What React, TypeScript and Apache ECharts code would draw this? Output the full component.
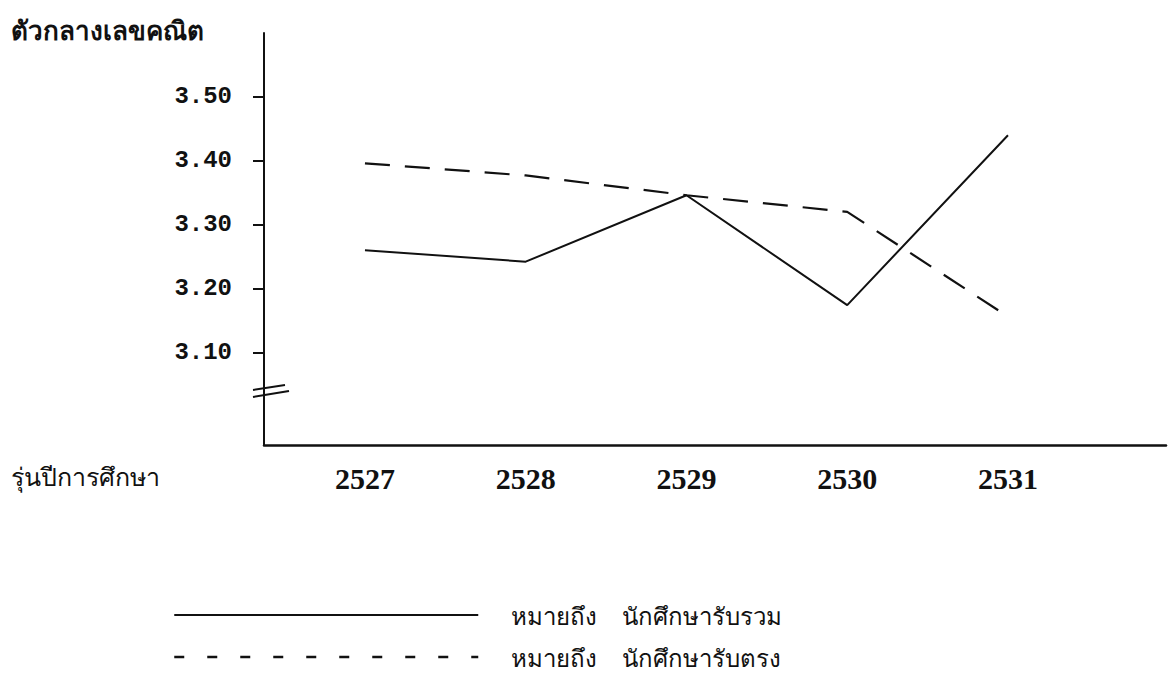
import React, { useEffect, useRef } from "react";
import * as echarts from "echarts";

const years = [2527, 2528, 2529, 2530, 2531];
const combinedAdmission = [3.26, 3.242, 3.346, 3.174, 3.44];
const directAdmission = [3.396, 3.377, 3.346, 3.32, 3.156];
const yTickValues = [3.1, 3.2, 3.3, 3.4, 3.5];
const seriesNames = ["นักศึกษารับรวม", "นักศึกษารับตรง"];
const yTitle = "ตัวกลางเลขคณิต";
const xTitle = "รุ่นปีการศึกษา";
const legendPrefix = "หมายถึง";

const THAI = "'Noto Sans', 'DejaVu Sans', sans-serif";

export default function App() {
  const ref = useRef<HTMLDivElement>(null);
  useEffect(() => {
    if (!ref.current) return;
    const chart = echarts.init(ref.current, undefined, { renderer: "svg" });
    const pairs = (vals: number[]) => years.map((y, i) => [y, vals[i]]);
    chart.setOption({
      animation: false,
      backgroundColor: "#ffffff",
      title: [
        {
          text: yTitle,
          left: 6,
          top: 12,
          textStyle: { fontSize: 26, fontWeight: "bold", color: "#111", fontFamily: THAI },
        },
        {
          text: xTitle,
          left: 6,
          top: 458,
          textStyle: { fontSize: 25, fontWeight: "normal", color: "#111", fontFamily: THAI },
        },
      ],
      grid: { left: 264, right: 8, top: 33, bottom: 234, containLabel: false, outerBoundsMode: "none" },
      xAxis: {
        type: "value",
        min: 2526.372,
        max: 2531.983,
        axisLine: { show: true, onZero: false, lineStyle: { color: "#111", width: 2.5 } },
        axisTick: { show: false },
        splitLine: { show: false },
        axisLabel: {
          customValues: years,
          formatter: (v: number) => String(Math.round(v)),
          margin: 18,
          fontSize: 30,
          fontWeight: "bold",
          color: "#111",
          fontFamily: "'Liberation Serif', serif",
        },
      },
      yAxis: {
        type: "value",
        min: 2.955,
        max: 3.6,
        axisLine: { show: true, onZero: false, lineStyle: { color: "#111", width: 2 } },
        axisTick: {
          show: true,
          inside: false,
          length: 11,
          customValues: yTickValues,
          lineStyle: { color: "#111", width: 2 },
        },
        splitLine: { show: false },
        axisLabel: {
          customValues: yTickValues,
          formatter: (v: number) => v.toFixed(2),
          margin: 32,
          fontSize: 24,
          fontWeight: "bold",
          color: "#111",
          fontFamily: "'Liberation Mono', monospace",
        },
      },
      legend: {
        orient: "vertical",
        left: 168,
        top: 598,
        itemWidth: 304,
        itemHeight: 14,
        itemGap: 18,
        selectedMode: false,
        itemStyle: { opacity: 0 },
        data: [
          { name: seriesNames[0], itemStyle: { opacity: 0 }, lineStyle: { type: "solid", width: 2, color: "#111" } },
          { name: seriesNames[1], itemStyle: { opacity: 0 }, lineStyle: { type: [10, 23], width: 2.5, color: "#111" } },
        ],
        formatter: (n: string) => legendPrefix + "    " + n,
        textStyle: { fontSize: 24, color: "#111", fontFamily: THAI, padding: [0, 0, 0, 28] },
      },
      series: [
        {
          name: seriesNames[0],
          type: "line",
          data: pairs(combinedAdmission),
          symbol: "none",
          lineStyle: { color: "#111", width: 2, type: "solid" },
          itemStyle: { color: "#111" },
        },
        {
          name: seriesNames[1],
          type: "line",
          data: pairs(directAdmission),
          symbol: "none",
          lineStyle: { color: "#111", width: 2.2, type: [25, 15] },
          itemStyle: { color: "#111" },
        },
      ],
      graphic: [
        { type: "line", shape: { x1: 253, y1: 390, x2: 285, y2: 385 }, style: { stroke: "#111", lineWidth: 2 } },
        { type: "line", shape: { x1: 253, y1: 397, x2: 289, y2: 391 }, style: { stroke: "#111", lineWidth: 2 } },
      ],
    });
    return () => chart.dispose();
  }, []);
  return <div ref={ref} style={{ width: 1174, height: 679, position: "absolute", left: 0, top: 0 }} />;
}
